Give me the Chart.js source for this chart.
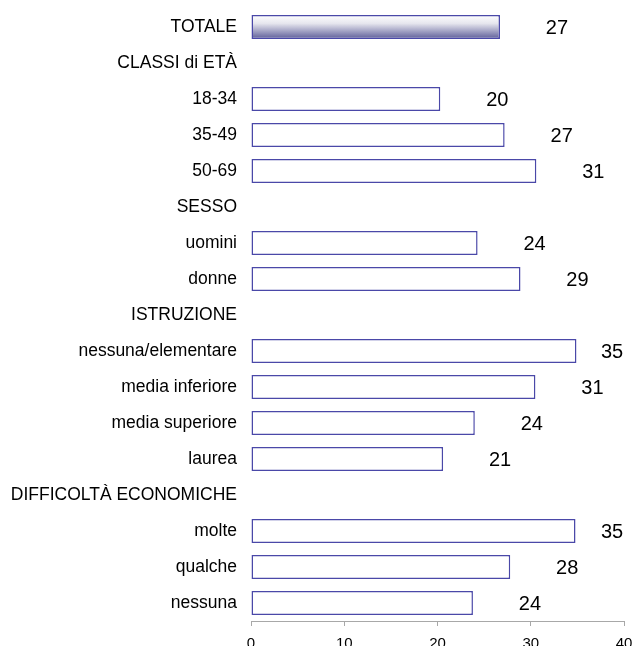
<!DOCTYPE html>
<html>
<head>
<meta charset="utf-8">
<script src="https://cdn.jsdelivr.net/npm/chart.js@4.4.0/dist/chart.umd.min.js"></script>
<style>
  html, body { margin: 0; padding: 0; background: #fff; }
  #wrap { width: 633px; height: 646px; }
</style>
</head>
<body>
<div id="wrap"><canvas id="barChart"></canvas></div>
<script>
// categories (section headers have no bar)
const categories = [
  "TOTALE", "CLASSI di ETÀ", "18-34", "35-49", "50-69",
  "SESSO", "uomini", "donne",
  "ISTRUZIONE", "nessuna/elementare", "media inferiore", "media superiore", "laurea",
  "DIFFICOLTÀ ECONOMICHE", "molte", "qualche", "nessuna"
];
const values = [26.7, null, 20.3, 27.2, 30.6, null, 24.3, 28.9, null, 34.9, 30.5, 24.0, 20.6, null, 34.8, 27.8, 23.8];
const valueLabels = ["27", "", "20", "27", "31", "", "24", "29", "", "35", "31", "24", "21", "", "35", "28", "24"];
const xTicks = [0, 10, 20, 30, 40];

const FONT = "'Liberation Sans', Arial, sans-serif";
const EDGE = "#4a48a8";

// numbers to the right of each bar
const valueLabelPlugin = {
  id: "valueLabels",
  afterDatasetsDraw(chart) {
    const { ctx } = chart;
    const meta = chart.getDatasetMeta(0);
    ctx.save();
    ctx.font = "20px " + FONT;
    ctx.fillStyle = "#000";
    ctx.textAlign = "center";
    ctx.textBaseline = "middle";
    meta.data.forEach((bar, i) => {
      if (values[i] == null) return;
      const x = Math.min(bar.x + 57, 612);
      ctx.fillText(valueLabels[i], x, bar.y + 1);
    });
    ctx.restore();
  }
};

const chart = new Chart(document.getElementById("barChart"), {
  type: "bar",
  data: {
    labels: categories,
    datasets: [{
      data: values,
      backgroundColor: (c) => {
        if (c.dataIndex !== 0) return "#fff";
        const y = c.chart.scales.y;
        const cy = y ? y.getPixelForValue(0) : NaN;
        if (!c.chart.chartArea || !isFinite(cy)) return "#fff";
        const g = c.chart.ctx.createLinearGradient(0, cy - 12, 0, cy + 12);
        g.addColorStop(0, "#ffffff");
        g.addColorStop(0.35, "#e6e6ee");
        g.addColorStop(1, "#5c5c98");
        return g;
      },
      borderColor: EDGE,
      borderWidth: 1.5,
      borderSkipped: false,
      barPercentage: 0.667,
      categoryPercentage: 1
    }]
  },
  options: {
    indexAxis: "y",
    responsive: true,
    maintainAspectRatio: false,
    animation: false,
    layout: { padding: { top: 9, right: 9, left: 0, bottom: 0 } },
    plugins: {
      legend: { display: false },
      tooltip: { enabled: false }
    },
    scales: {
      x: {
        min: 0,
        max: 40,
        afterBuildTicks: (s) => { s.ticks = xTicks.map(v => ({ value: v })); },
        afterFit: (s) => { s.height = 25; s.paddingLeft = 0; s.paddingRight = 0; },
        grid: { display: true, drawOnChartArea: false, drawTicks: true, tickLength: 5, color: "#a8a8a8" },
        border: { display: true, color: "#a8a8a8" },
        ticks: { color: "#000", font: { family: FONT, size: 15 }, padding: 9 }
      },
      y: {
        grid: { display: false, drawTicks: false },
        border: { display: false },
        afterFit: (s) => { s.width = 251; s.paddingTop = 0; s.paddingBottom = 0; },
        ticks: { color: "#000", font: { family: FONT, size: 17.5 }, padding: 14, autoSkip: false }
      }
    }
  },
  plugins: [valueLabelPlugin]
});
chart.update();
</script>
</body>
</html>
